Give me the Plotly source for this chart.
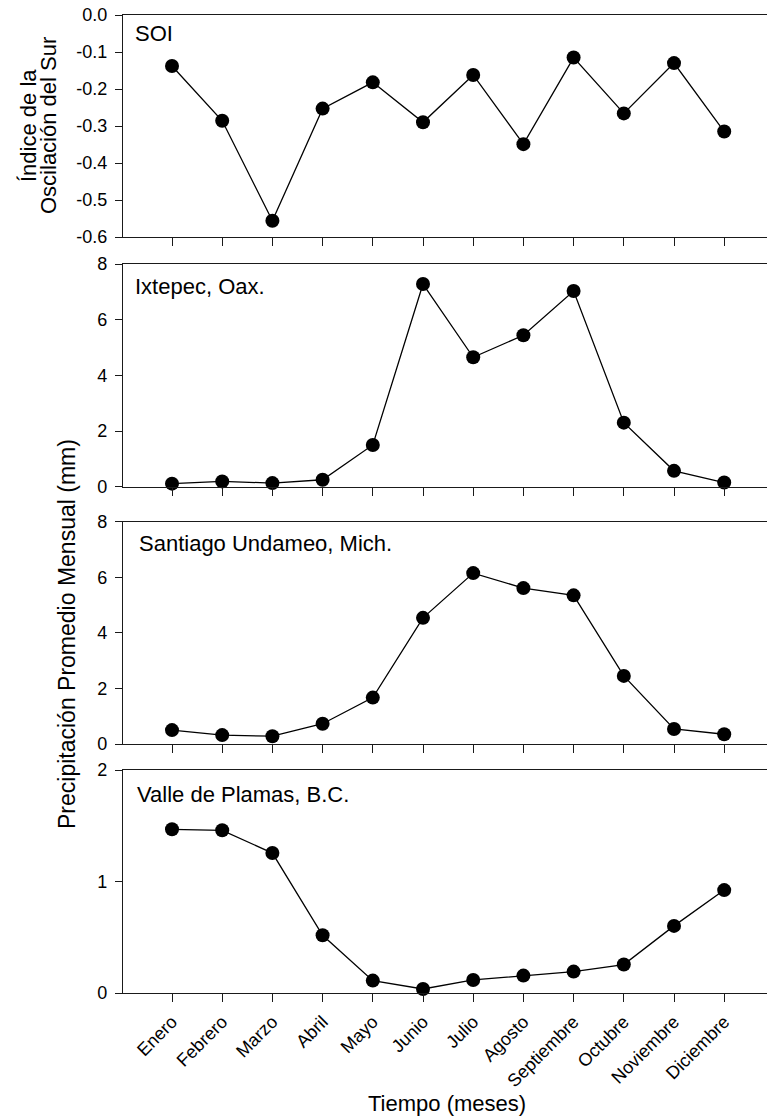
import plotly.graph_objects as go
from plotly.subplots import make_subplots

meses = ["Enero", "Febrero", "Marzo", "Abril", "Mayo", "Junio", "Julio",
         "Agosto", "Septiembre", "Octubre", "Noviembre", "Diciembre"]
soi = [-0.138, -0.286, -0.556, -0.253, -0.182, -0.290, -0.162, -0.349,
       -0.115, -0.266, -0.130, -0.315]
ixtepec = [0.11, 0.19, 0.13, 0.25, 1.50, 7.28, 4.65, 5.44, 7.03, 2.30, 0.57, 0.15]
santiago = [0.50, 0.32, 0.28, 0.73, 1.67, 4.54, 6.15, 5.61, 5.35, 2.45, 0.54, 0.35]
valle = [1.468, 1.459, 1.255, 0.518, 0.111, 0.036, 0.117, 0.156, 0.192, 0.255, 0.602, 0.923]

soi_ticks = [0.0, -0.1, -0.2, -0.3, -0.4, -0.5, -0.6]
soi_ticktext = ["0.0", "-0.1", "-0.2", "-0.3", "-0.4", "-0.5", "-0.6"]
panel_labels = ["SOI", "Ixtepec, Oax.", "Santiago Undameo, Mich.", "Valle de Plamas, B.C."]

FONT = "Liberation Sans, Arial, sans-serif"
W, H = 767, 1118
ML, MR, MT, MB = 123, 0, 15, 125
plot_h = H - MT - MB
bottom_px = H - MB


def py(px):
    return (bottom_px - px) / plot_h


def pxx(px):
    return (px - ML) / (W - ML - MR)


domains = [(py(237), 1.0), (py(486.7), py(264)), (py(744), py(521.7)), (0.0, py(770))]
series = [soi, ixtepec, santiago, valle]
xi = list(range(len(meses)))

fig = make_subplots(rows=4, cols=1)
for r, vals in enumerate(series, start=1):
    fig.add_trace(go.Scatter(
        x=xi, y=vals, mode="lines+markers",
        line=dict(color="black", width=1.3),
        marker=dict(color="black", size=14),
        cliponaxis=False, showlegend=False), row=r, col=1)

xrange = [(123 - 172) / 50.2, (767 - 172) / 50.2]
axline = dict(showline=True, linecolor="#1a1a1a", linewidth=1.4, showgrid=False,
              zeroline=False, ticks="outside", tickcolor="#1a1a1a", tickwidth=1.3)
for r in range(1, 5):
    xa = "xaxis" if r == 1 else f"xaxis{r}"
    ya = "yaxis" if r == 1 else f"yaxis{r}"
    fig.layout[xa].update(domain=[0, 1], range=xrange, tickvals=xi,
                          ticktext=meses if r == 4 else [""] * 12,
                          showticklabels=(r == 4), tickangle=-45, ticklen=8,
                          ticklabelstandoff=2,
                          mirror=True,
                          tickfont=dict(family=FONT, size=18, color="black"),
                          **axline)
    fig.layout[ya].update(domain=list(domains[r - 1]), ticklen=7,
                          ticklabelstandoff=4,
                          tickfont=dict(family=FONT, size=18, color="black"),
                          **axline)

fig.layout.yaxis.update(range=[-0.6, 0.0], tickvals=soi_ticks, ticktext=soi_ticktext)
fig.layout.yaxis2.update(range=[0, 8], tickvals=[0, 2, 4, 6, 8])
fig.layout.yaxis3.update(range=[0, 8], tickvals=[0, 2, 4, 6, 8])
fig.layout.yaxis4.update(range=[0, 2], tickvals=[0, 1, 2])

ann = []
label_y = [33, 286.7, 543, 794]
label_x = [133, 133, 137, 135]
for lab, ly, lx in zip(panel_labels, label_y, label_x):
    ann.append(dict(text=lab, xref="paper", yref="paper", x=pxx(lx), y=py(ly),
                    xanchor="left", yanchor="middle", showarrow=False,
                    font=dict(family=FONT, size=22, color="black")))
for line, cx in (("Índice de la", 28), ("Oscilación del Sur", 48)):
    ann.append(dict(text=line, xref="paper", yref="paper",
                    x=pxx(cx), y=py(126), xanchor="center", yanchor="middle",
                    textangle=-90, showarrow=False,
                    font=dict(family=FONT, size=22, color="black")))
ann.append(dict(text="Precipitación Promedio Mensual (mm)", xref="paper", yref="paper",
                x=pxx(67), y=py(634), xanchor="center", yanchor="middle",
                textangle=-90, showarrow=False,
                font=dict(family=FONT, size=23, color="black")))
ann.append(dict(text="Tiempo (meses)", xref="paper", yref="paper",
                x=pxx(447), y=py(1103), xanchor="center", yanchor="middle",
                showarrow=False, font=dict(family=FONT, size=22, color="black")))

fig.update_layout(width=W, height=H, margin=dict(l=ML, r=MR, t=MT, b=MB),
                  paper_bgcolor="white", plot_bgcolor="white",
                  annotations=ann, font=dict(family=FONT, color="black"))

fig.write_html("out.html")
